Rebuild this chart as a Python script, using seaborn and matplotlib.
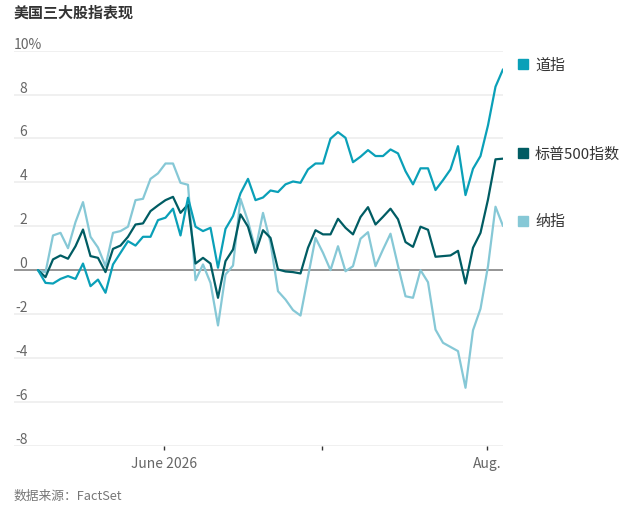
import matplotlib
matplotlib.use("Agg")
import matplotlib.pyplot as plt
import matplotlib.transforms as mtransforms
import numpy as np
import pandas as pd
import seaborn as sns

# ---------------- data ----------------
series_names = ["道指", "标普500指数", "纳指"]

dow = [0, -0.58, -0.61, -0.40, -0.27, -0.40, 0.30, -0.73, -0.43, -1.03,
       0.26, 0.79, 1.32, 1.12, 1.52, 1.52, 2.28, 2.39, 2.80, 1.58,
       3.30, 1.98, 1.78, 1.93, 0.11, 1.88, 2.46, 3.50, 4.16, 3.19,
       3.31, 3.63, 3.56, 3.91, 4.04, 3.98, 4.59, 4.86, 4.86, 5.99,
       6.29, 6.03, 4.92, 5.17, 5.47, 5.20, 5.20, 5.50, 5.32, 4.51,
       3.91, 4.64, 4.64, 3.65, 4.10, 4.59, 5.65, 3.42, 4.62, 5.20,
       6.60, 8.36, 9.15]

sp500 = [0, -0.32, 0.49, 0.67, 0.52, 1.09, 1.85, 0.64, 0.56, -0.09,
         0.97, 1.12, 1.52, 2.08, 2.13, 2.69, 2.95, 3.19, 3.34, 2.61,
         2.99, 0.30, 0.56, 0.30, -1.26, 0.41, 0.94, 2.54, 1.98, 0.79,
         1.82, 1.47, 0.03, -0.06, -0.09, -0.15, 1.02, 1.82, 1.63, 1.63,
         2.34, 1.93, 1.63, 2.42, 2.87, 2.08, 2.43, 2.80, 2.32, 1.28,
         1.06, 1.98, 1.84, 0.61, 0.64, 0.67, 0.88, -0.61, 1.02, 1.70,
         3.22, 5.05, 5.08]

nasdaq = [0, -0.10, 1.58, 1.70, 1.00, 2.19, 3.10, 1.52, 1.03, 0.18,
          1.70, 1.78, 1.98, 3.19, 3.25, 4.16, 4.41, 4.86, 4.86, 3.98,
          3.89, -0.46, 0.26, -0.58, -2.52, -0.20, 0.21, 3.25, 2.23, 0.94,
          2.61, 1.25, -0.96, -1.34, -1.82, -2.07, -0.30, 1.47, 0.79, 0.00,
          1.09, -0.05, 0.18, 1.43, 1.73, 0.18, 0.94, 1.66, 0.20, -1.19,
          -1.26, 0.00, -0.55, -2.71, -3.31, -3.50, -3.69, -5.36, -2.74, -1.76,
          0.18, 2.89, 2.01]

y_ticks = [-8, -6, -4, -2, 0, 2, 4, 6, 8, 10]
x_tick_labels = ["June 2026", "", "Aug."]
x_tick_pos = [16.8, 37.87, 59.87]   # month starts on the trading-day axis

title = "美国三大股指表现"
source = "数据来源：FactSet"

colors = {"道指": "#0aa0b8", "标普500指数": "#005c63", "纳指": "#86c8d6"}

# ---------------- build frame ----------------
values = {"道指": dow, "标普500指数": sp500, "纳指": nasdaq}
frames = []
for name in series_names:
    v = values[name]
    frames.append(pd.DataFrame({"idx": np.arange(len(v)), "val": v, "series": name}))
df = pd.concat(frames, ignore_index=True)

# ---------------- style ----------------
sns.set_theme(style="white")
plt.rcParams["font.family"] = ["Noto Sans CJK SC", "DejaVu Sans"]

W, H = 634, 509
fig = plt.figure(figsize=(W / 100, H / 100), dpi=100)
left_px, right_px, top_px, bot_px = 14, 503, 50.7, 445.7
ax = fig.add_axes([left_px / W, 1 - bot_px / H,
                   (right_px - left_px) / W, (bot_px - top_px) / H])

# grid
for v in y_ticks:
    ax.axhline(v, color="#efefef", lw=1.3, zorder=0)
ax.axhline(0, color="#8e8e8e", lw=1.3, zorder=1)

sns.lineplot(data=df, x="idx", y="val", hue="series",
             hue_order=["纳指", "标普500指数", "道指"],
             palette=colors, linewidth=1.6, legend=False, ax=ax, zorder=3)

n = len(dow)
ax.set_xlim(-(38 - left_px) / 7.5, n - 1)
ax.set_ylim(-8, 10)
for s in ax.spines.values():
    s.set_visible(False)
ax.set_xlabel("")
ax.set_ylabel("")
ax.set_yticks([])

ax.set_xticks(x_tick_pos)
ax.set_xticklabels(x_tick_labels)
ax.tick_params(axis="x", bottom=True, length=3, width=1, color="#333333",
               pad=5, labelsize=10, labelcolor="#666666")

# y labels sitting above gridlines
trans = mtransforms.blended_transform_factory(ax.transAxes, ax.transData)
trans_off = mtransforms.offset_copy(trans, fig=fig, x=0, y=1.5, units="points")
xr = (27.5 - left_px) / (right_px - left_px)
for v in y_ticks:
    if v == 10:
        ax.text(0, v, f"{v}%", transform=trans_off, ha="left", va="baseline",
                fontsize=10, color="#666666")
    else:
        ax.text(xr, v, f"{v}", transform=trans_off, ha="right", va="baseline",
                fontsize=10, color="#666666")

# legend labels at line ends
xs = (523 - left_px) / (right_px - left_px)
xt = (535 - left_px) / (right_px - left_px)
trans_lbl = mtransforms.offset_copy(trans, fig=fig, x=0, y=-1.0, units="points")
for name in series_names:
    yv = values[name][-1] + 0.25
    ax.plot([xs], [yv], marker="s", markersize=7.2, color=colors[name],
            transform=trans, clip_on=False, linestyle="none")
    ax.text(xt, yv, name, transform=trans_lbl, ha="left", va="center",
            fontsize=10.8, color="#333333", clip_on=False)

fig.text(left_px / W, 1 - 13 / H, title, ha="left", va="center",
         fontsize=10.8, fontweight="bold", color="#333333")
fig.text(left_px / W, 1 - 496 / H, source, ha="left", va="center",
         fontsize=9.2, color="#777777")

fig.savefig("out.png", dpi=100)
